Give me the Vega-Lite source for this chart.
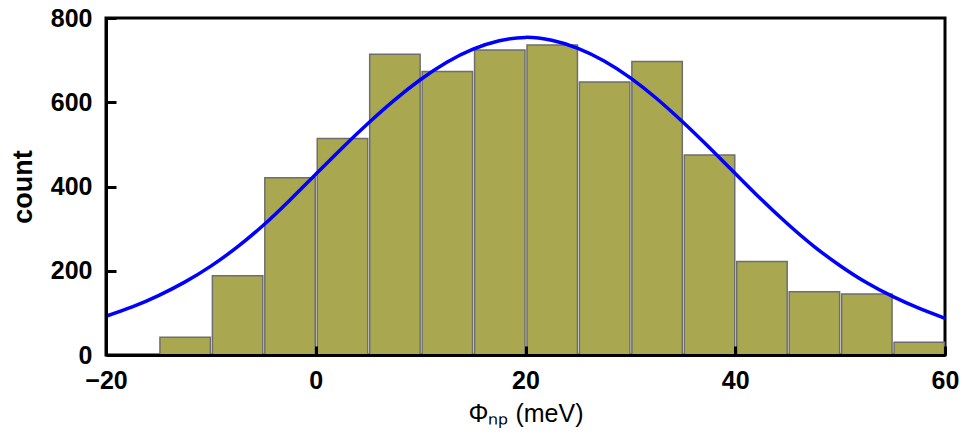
{
  "$schema": "https://vega.github.io/schema/vega-lite/v6.json",
  "width": 839,
  "height": 337,
  "autosize": {"type": "none"},
  "padding": {"left": 106, "top": 18, "right": 18, "bottom": 83},
  "background": "white",
  "datasets": {
    "bins": [
      {"start": -15, "end": -10, "count": 42},
      {"start": -10, "end": -5, "count": 188},
      {"start": -5, "end": 0, "count": 421},
      {"start": 0, "end": 5, "count": 514},
      {"start": 5, "end": 10, "count": 714},
      {"start": 10, "end": 15, "count": 673},
      {"start": 15, "end": 20, "count": 724},
      {"start": 20, "end": 25, "count": 736},
      {"start": 25, "end": 30, "count": 648},
      {"start": 30, "end": 35, "count": 697},
      {"start": 35, "end": 40, "count": 475},
      {"start": 40, "end": 45, "count": 222},
      {"start": 45, "end": 50, "count": 150},
      {"start": 50, "end": 55, "count": 145},
      {"start": 55, "end": 60, "count": 30}
    ],
    "fit": [
      {"x": -20, "y": 92},
      {"x": -17.5, "y": 114},
      {"x": -15, "y": 141},
      {"x": -12.5, "y": 173},
      {"x": -10, "y": 211},
      {"x": -7.5, "y": 256},
      {"x": -5, "y": 308},
      {"x": -2.5, "y": 367},
      {"x": 0, "y": 429},
      {"x": 2.5, "y": 491},
      {"x": 5, "y": 550},
      {"x": 7.5, "y": 605},
      {"x": 10, "y": 654},
      {"x": 12.5, "y": 695},
      {"x": 15, "y": 726},
      {"x": 17.5, "y": 746},
      {"x": 20, "y": 754},
      {"x": 22.5, "y": 747},
      {"x": 25, "y": 728},
      {"x": 27.5, "y": 698},
      {"x": 30, "y": 658},
      {"x": 32.5, "y": 609},
      {"x": 35, "y": 553},
      {"x": 37.5, "y": 493},
      {"x": 40, "y": 431},
      {"x": 42.5, "y": 369},
      {"x": 45, "y": 311},
      {"x": 47.5, "y": 258},
      {"x": 50, "y": 212},
      {"x": 52.5, "y": 172},
      {"x": 55, "y": 139},
      {"x": 57.5, "y": 111},
      {"x": 60, "y": 87}
    ]
  },
  "layer": [
    {
      "data": {"name": "bins"},
      "mark": {"type": "bar", "fill": "#A9A851", "stroke": "#6e6e6e", "strokeWidth": 1.5, "binSpacing": 2},
      "encoding": {
        "x": {
          "field": "start",
          "type": "quantitative",
          "bin": "binned",
          "scale": {"domain": [-20, 60], "nice": false, "zero": false},
          "axis": {
            "title": "Φₙₚ (meV)",
            "tickCount": 4,
            "tickColor": "black",
            "tickWidth": 3,
            "tickSize": -9,
            "labelPadding": 22,
            "labelFlush": false,
            "titlePadding": 8,
            "zindex": 1
          }
        },
        "x2": {"field": "end"},
        "y": {
          "field": "count",
          "type": "quantitative",
          "scale": {"domain": [0, 800], "nice": false},
          "axis": {
            "title": "count",
            "tickCount": 4,
            "tickColor": "black",
            "tickWidth": 3,
            "tickSize": -10,
            "labelPadding": 24,
            "labelFlush": false,
            "titlePadding": 13,
            "zindex": 1
          }
        }
      }
    },
    {
      "data": {"name": "fit"},
      "mark": {"type": "line", "color": "#0000FF", "strokeWidth": 3.5, "interpolate": "natural"},
      "encoding": {
        "x": {"field": "x", "type": "quantitative"},
        "y": {"field": "y", "type": "quantitative"}
      }
    }
  ],
  "config": {
    "view": {"stroke": "black", "strokeWidth": 3},
    "axis": {
      "grid": false,
      "domainColor": "black",
      "domainWidth": 3,
      "labelFont": "Liberation Sans",
      "labelFontSize": 25,
      "labelFontWeight": "bold",
      "labelColor": "black",
      "titleFont": "Liberation Sans",
      "titleColor": "black"
    },
    "axisX": {"titleFontSize": 25, "titleFontWeight": "normal"},
    "axisY": {"titleFontSize": 27, "titleFontWeight": "bold"}
  }
}
